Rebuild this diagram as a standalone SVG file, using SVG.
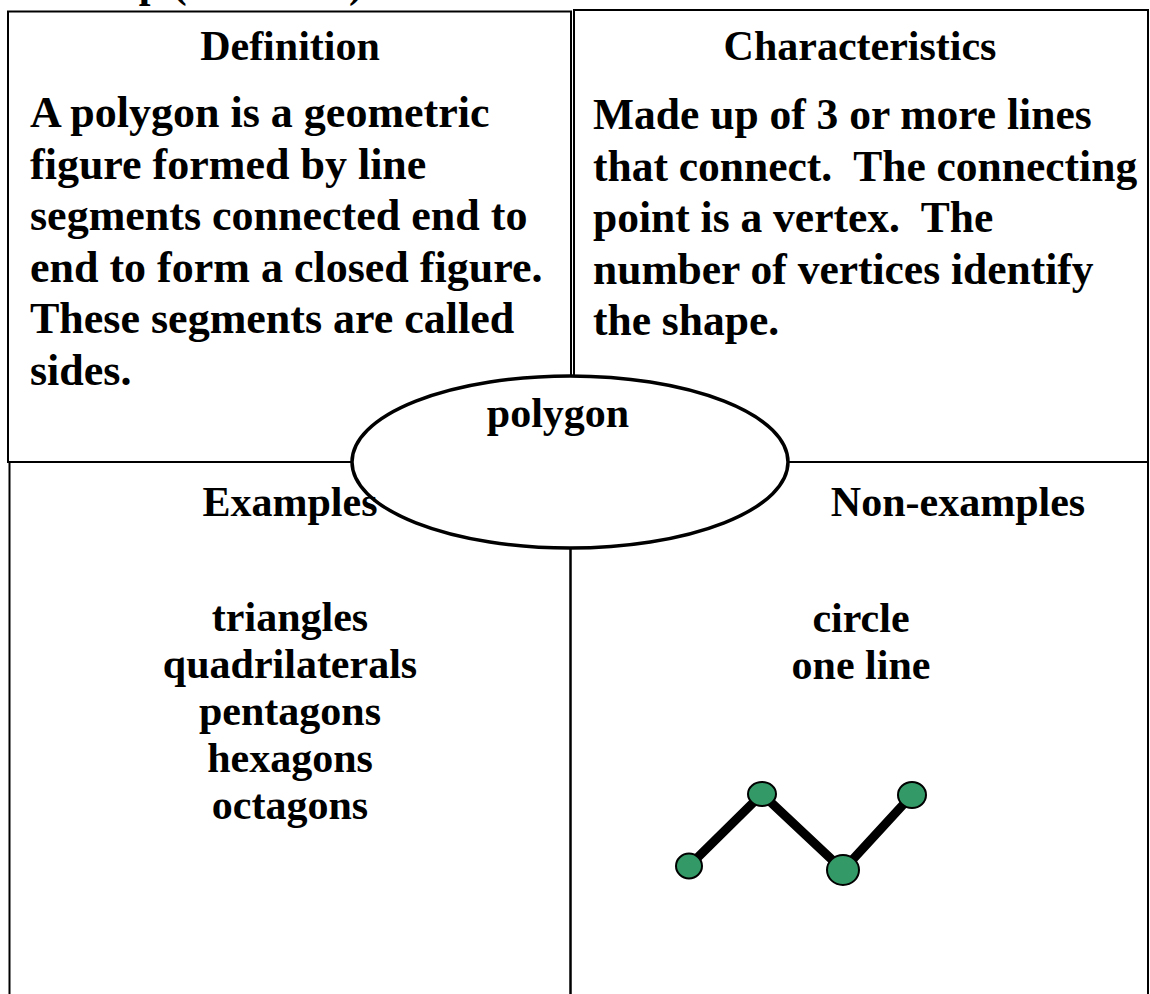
<svg xmlns="http://www.w3.org/2000/svg" width="1150" height="994" viewBox="0 0 1150 994">
<style>
.t{font-family:"Liberation Serif","Times New Roman",serif;font-weight:bold;font-size:42px;fill:#000}
.b{font-size:44px}
.r{font-size:43.5px}
.c{text-anchor:middle}
.box{fill:none;stroke:#000;stroke-width:2}
.dot{fill:#339966;stroke:#000;stroke-width:2}
.seg{stroke:#000;stroke-width:9;stroke-linecap:butt;fill:none}
</style>
<rect width="1150" height="994" fill="#fff"/>
<text class="t" x="-35" y="-3">Word Map (Unit Test)</text>
<g id="examples">
<rect class="box" x="9.5" y="462" width="561" height="560"/>
</g>
<g id="non-examples">
<rect class="box" x="570.5" y="462" width="577.5" height="560"/>
</g>
<g id="definition">
<rect class="box" x="8" y="11.5" width="563" height="450.5"/>
<text class="t c" x="290" y="60">Definition</text>
<text class="t b" x="30" y="127">A polygon is a geometric</text>
<text class="t b" x="30" y="178.5">figure formed by line</text>
<text class="t b" x="30" y="230">segments connected end to</text>
<text class="t b" x="30" y="281.5">end to form a closed figure.</text>
<text class="t b" x="30" y="333">These segments are called</text>
<text class="t b" x="30" y="384.5">sides.</text>
</g>
<g id="characteristics">
<rect class="box" x="574" y="10" width="574" height="452"/>
<text class="t c" x="860" y="60">Characteristics</text>
<text class="t r" x="593" y="129" xml:space="preserve">Made up of 3 or more lines</text>
<text class="t r" x="593" y="180.5" xml:space="preserve">that connect.  The connecting</text>
<text class="t r" x="593" y="232" xml:space="preserve">point is a vertex.  The</text>
<text class="t r" x="593" y="283.5" xml:space="preserve">number of vertices identify</text>
<text class="t r" x="593" y="335">the shape.</text>
</g>
<g id="center">
<ellipse cx="570" cy="462" rx="218" ry="86" fill="#fff" stroke="#000" stroke-width="3.5"/>
<text class="t c" x="558" y="427">polygon</text>
</g>
<g id="examples-text">
<text class="t c" x="290" y="516">Examples</text>
<text class="t c" x="290" y="631">triangles</text>
<text class="t c" x="290" y="678">quadrilaterals</text>
<text class="t c" x="290" y="725">pentagons</text>
<text class="t c" x="290" y="772">hexagons</text>
<text class="t c" x="290" y="819">octagons</text>
</g>
<g id="non-examples-text">
<text class="t c" x="958" y="516">Non-examples</text>
<text class="t c" x="861" y="632">circle</text>
<text class="t c" x="861" y="679">one line</text>
</g>
<g id="connectors">
<polyline class="seg" points="689,866 762,794 843,870 912,795"/>
</g>
<g id="zigzag-points">
<ellipse class="dot" cx="689" cy="866" rx="13" ry="12.5"/>
<ellipse class="dot" cx="762" cy="794" rx="14" ry="12"/>
<ellipse class="dot" cx="843" cy="870" rx="16" ry="15"/>
<ellipse class="dot" cx="912" cy="795" rx="14" ry="13"/>
</g>
</svg>
